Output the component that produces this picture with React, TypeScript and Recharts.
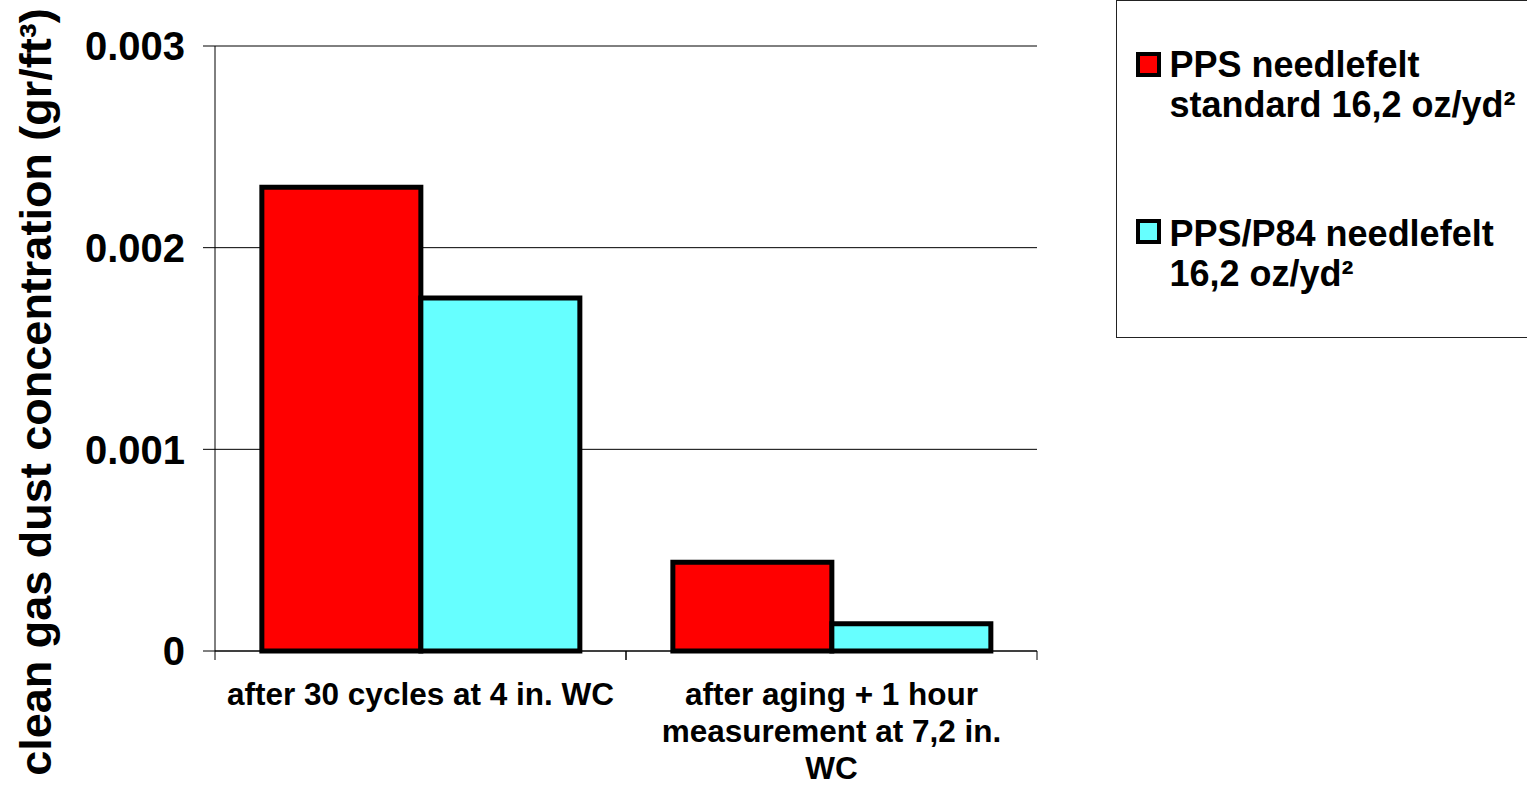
import React from 'react';
import { BarChart, Bar, XAxis, YAxis, CartesianGrid, Legend } from 'recharts';

const categories = ['after 30 cycles at 4 in. WC', 'after aging + 1 hour measurement at 7,2 in. WC'];
const categoryLines = [
  ['after 30 cycles at 4 in. WC'],
  ['after aging + 1 hour', 'measurement at 7,2 in.', 'WC'],
];
const ppsStandard = [0.0023, 0.00044];
const ppsP84 = [0.00175, 0.000135];
const yTicks = [0, 0.001, 0.002, 0.003];
const seriesNames = ['PPS needlefelt standard 16,2 oz/yd²', 'PPS/P84 needlefelt 16,2 oz/yd²'];
const legendLines = [
  ['PPS needlefelt', 'standard 16,2 oz/yd²'],
  ['PPS/P84 needlefelt', '16,2 oz/yd²'],
];
const yTitle = 'clean gas dust concentration (gr/ft³)';

const data = categories.map((c, i) => ({
  name: c,
  idx: i,
  a: ppsStandard[i],
  b: ppsP84[i],
}));

const FONT = '"Liberation Sans", Arial, sans-serif';
const RED = '#FF0000';
const CYAN = '#66FFFF';

const XTick = (props: any) => {
  const { x, y, payload } = props;
  const lines = categoryLines[payload.index] || [String(payload.value)];
  const half = payload.offset || 0;
  return (
    <g>
      <line x1={x - half} x2={x - half} y1={y} y2={y + 9} stroke="#000" strokeWidth={1} />
      <line x1={x + half} x2={x + half} y1={y} y2={y + 9} stroke="#000" strokeWidth={1} />
      <text x={x} y={y} textAnchor="middle" fontFamily={FONT} fontWeight="bold" fontSize={31.5} fill="#000">
        {lines.map((l, i) => (
          <tspan key={i} x={x} dy={i === 0 ? 54 : 37}>{l}</tspan>
        ))}
      </text>
    </g>
  );
};

const YTitle = () => (
  <text
    x={0}
    y={0}
    transform="translate(51, 392) rotate(-90)"
    textAnchor="middle"
    fontFamily={FONT}
    fontWeight="bold"
    fontSize={45}
    fill="#000"
  >
    {yTitle}
  </text>
);

const LegendContent = () => {
  const colors = [RED, CYAN];
  const squareTops = [52, 219];
  const textTops = [45.5, 214.5];
  return (
    <div
      style={{
        position: 'relative',
        width: 430,
        height: 338,
        border: '1.5px solid #222',
        boxSizing: 'border-box',
        background: '#fff',
        fontFamily: FONT,
        fontWeight: 'bold',
        fontSize: 36,
        color: '#000',
      }}
    >
      {legendLines.map((lines, i) => (
        <React.Fragment key={seriesNames[i]}>
          <div
            style={{
              position: 'absolute',
              left: 18.5,
              top: squareTops[i] - 1.5,
              width: 25,
              height: 25,
              boxSizing: 'border-box',
              border: '4.5px solid #000',
              background: colors[i],
            }}
          />
          <div
            style={{
              position: 'absolute',
              left: 52.5,
              top: textTops[i] - 1.5,
              lineHeight: '40px',
              whiteSpace: 'nowrap',
            }}
          >
            {lines.map((l, j) => (
              <div key={j}>{l}</div>
            ))}
          </div>
        </React.Fragment>
      ))}
    </div>
  );
};

export default function App() {
  return (
    <div style={{ position: 'absolute', left: 0, top: 0, width: 1527, height: 787, overflow: 'hidden', background: '#fff' }}>
      <BarChart
        width={1527}
        height={787}
        data={data}
        margin={{ top: 46, right: 490, bottom: 0, left: 0 }}
        barCategoryGap="11.4%"
        barGap={0}
      >
        <CartesianGrid vertical={false} stroke="#000" strokeWidth={1} strokeDasharray="" />
        <XAxis
          dataKey="name"
          height={136}
          axisLine={{ stroke: '#000', strokeWidth: 1 }}
          tickLine={false}
          tickSize={0}
          tickMargin={0}
          interval={0}
          tick={<XTick />}
        />
        <YAxis
          width={215}
          domain={[0, 0.003]}
          ticks={yTicks}
          interval={0}
          axisLine={{ stroke: '#000', strokeWidth: 1 }}
          tickLine={{ stroke: '#000', strokeWidth: 1 }}
          tickSize={12}
          tickMargin={18}
          tickFormatter={(v: number) => (v === 0 ? '0' : v.toFixed(3))}
          tick={{ fill: '#000', fontFamily: FONT, fontWeight: 'bold', fontSize: 40 }}
          label={<YTitle />}
        />
        <Legend
          layout="horizontal"
          align="center"
          verticalAlign="middle"
          content={<LegendContent />}
          wrapperStyle={{ position: 'absolute', top: 0, left: 1116, width: 430, height: 338 }}
        />
        <Bar dataKey="a" name={seriesNames[0]} fill={RED} stroke="#000" strokeWidth={5} isAnimationActive={false} />
        <Bar dataKey="b" name={seriesNames[1]} fill={CYAN} stroke="#000" strokeWidth={5} isAnimationActive={false} />
      </BarChart>
    </div>
  );
}
